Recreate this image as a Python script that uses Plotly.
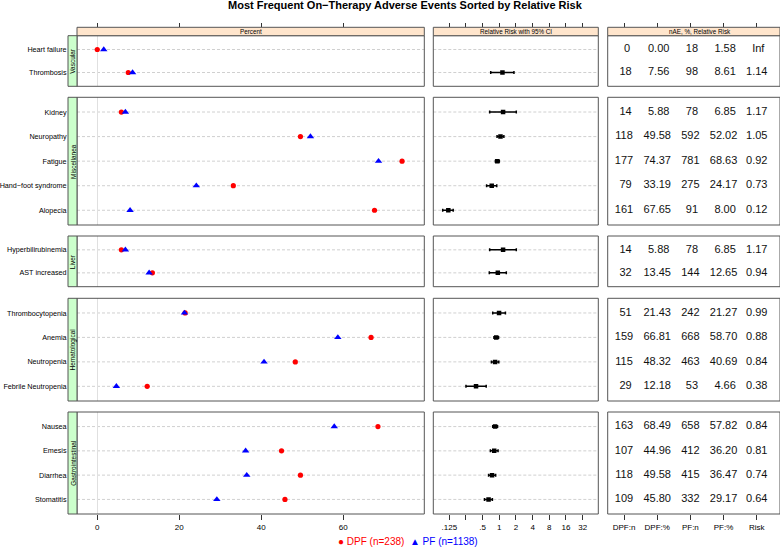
import math
import plotly.graph_objects as go

# ---------------- data ----------------
groups = ["Vascular", "Miscellanea", "Liver", "Hematological", "Gastrointestinal"]
events = ["Heart failure", "Thrombosis",
          "Kidney", "Neuropathy", "Fatigue", "Hand\u2212foot syndrome", "Alopecia",
          "Hyperbilirubinemia", "AST increased",
          "Thrombocytopenia", "Anemia", "Neutropenia", "Febrile Neutropenia",
          "Nausea", "Emesis", "Diarrhea", "Stomatitis"]
event_group = ["Vascular", "Vascular",
               "Miscellanea", "Miscellanea", "Miscellanea", "Miscellanea", "Miscellanea",
               "Liver", "Liver",
               "Hematological", "Hematological", "Hematological", "Hematological",
               "Gastrointestinal", "Gastrointestinal", "Gastrointestinal", "Gastrointestinal"]
dpf_n = [0, 18, 14, 118, 177, 79, 161, 14, 32, 51, 159, 115, 29, 163, 107, 118, 109]
dpf_pct = [0.00, 7.56, 5.88, 49.58, 74.37, 33.19, 67.65, 5.88, 13.45, 21.43, 66.81, 48.32, 12.18,
           68.49, 44.96, 49.58, 45.80]
pf_n = [18, 98, 78, 592, 781, 275, 91, 78, 144, 242, 668, 463, 53, 658, 412, 415, 332]
pf_pct = [1.58, 8.61, 6.85, 52.02, 68.63, 24.17, 8.00, 6.85, 12.65, 21.27, 58.70, 40.69, 4.66,
          57.82, 36.20, 36.47, 29.17]
risk = [math.inf, 1.14, 1.17, 1.05, 0.92, 0.73, 0.12, 1.17, 0.94, 0.99, 0.88, 0.84, 0.38,
        0.84, 0.81, 0.74, 0.64]
ci_low = [None, 0.70, 0.67, 0.91, 0.85, 0.59, 0.095, 0.67, 0.66, 0.76, 0.80, 0.72, 0.25,
          0.76, 0.69, 0.64, 0.54]
ci_high = [None, 1.84, 2.03, 1.21, 1.00, 0.90, 0.147, 2.03, 1.34, 1.29, 0.97, 0.98, 0.58,
           0.93, 0.95, 0.86, 0.75]

pct_ticks = [0, 20, 40, 60]
rr_ticks = [0.125, 0.25, 0.5, 1, 2, 4, 8, 16, 32]
rr_ticktext = [".125", "", ".5", "1", "2", "4", "8", "16", "32"]
tab_ticks = [1, 2, 3, 4, 5]
tab_ticktext = ["DPF:n", "DPF:%", "PF:n", "PF:%", "Risk"]

title = "Most Frequent On\u2212Therapy Adverse Events Sorted by Relative Risk"
strip_titles = ["Percent", "Relative Risk with 95% CI", "nAE, %, Relative Risk"]
legend_dpf = "DPF (n=238)"
legend_pf = "PF (n=1138)"

# ---------------- layout geometry (pixels) ----------------
W, H = 780, 547
FONT = "Liberation Sans, Arial, sans-serif"


def fx(p):
    return p / W


def fy(p):
    return 1 - p / H


col_px = [(77, 424.3), (433.3, 598.3), (607.7, 780)]
panel_px = [(35.7, 86.3), (97.3, 225), (236, 286.7), (298.3, 401), (412, 514)]
strip_top, strip_bot = 27.3, 35.7
xnames = ["x", "x2", "x3"]
ynames = ["y", "y2", "y3", "y4", "y5"]

pct_range = [-4.95, 79.8]
rr_range = [math.log10(2 ** -3.96), math.log10(2 ** 5.94)]
tab_range = [0.509, 5.70]

RED = "#FF0000"
BLUE = "#0000FF"
BORDER = "#555555"

fig = go.Figure()
shapes = []
annotations = []


def pad(s, w):
    return "\u00a0" * (w - len(s)) + s


def fmt_risk(v):
    return "Inf" if math.isinf(v) else f"{v:.2f}"


tab_cols = [
    ([str(v) for v in dpf_n], 3),
    ([f"{v:.2f}" for v in dpf_pct], 5),
    ([str(v) for v in pf_n], 3),
    ([f"{v:.2f}" for v in pf_pct], 5),
    ([fmt_risk(v) for v in risk], 4),
]

for k, g in enumerate(groups):
    ya = ynames[k]
    idx = [i for i, eg in enumerate(event_group) if eg == g]
    rows = list(range(1, len(idx) + 1))
    # percent column
    fig.add_trace(go.Scatter(
        x=[dpf_pct[i] for i in idx], y=rows, xaxis="x", yaxis=ya, mode="markers",
        marker=dict(symbol="circle", size=5.2, color=RED), showlegend=False, cliponaxis=False,
        hoverinfo="skip"))
    fig.add_trace(go.Scatter(
        x=[pf_pct[i] for i in idx], y=rows, xaxis="x", yaxis=ya, mode="markers",
        marker=dict(symbol="triangle-up", size=6.5, color=BLUE), showlegend=False,
        cliponaxis=False, hoverinfo="skip"))
    # relative risk column
    rx, ry, ep, em = [], [], [], []
    for r, i in zip(rows, idx):
        if math.isinf(risk[i]) or ci_low[i] is None:
            continue
        rx.append(risk[i])
        ry.append(r)
        ep.append(ci_high[i] - risk[i])
        em.append(risk[i] - ci_low[i])
    fig.add_trace(go.Scatter(
        x=rx, y=ry, xaxis="x2", yaxis=ya, mode="markers",
        marker=dict(symbol="square", size=4.5, color="black"),
        error_x=dict(type="data", symmetric=False, array=ep, arrayminus=em,
                     color="black", thickness=1.5, width=1.5),
        showlegend=False, hoverinfo="skip"))
    # table column
    for c, (vals, w) in enumerate(tab_cols):
        fig.add_trace(go.Scatter(
            x=[tab_ticks[c]] * len(idx), y=rows, xaxis="x3", yaxis=ya, mode="text",
            text=[pad(vals[i], w) for i in idx],
            textfont=dict(size=11, color="#111111", family=FONT),
            textposition="middle center", showlegend=False, hoverinfo="skip"))

    # axis
    top, bot = panel_px[k]
    fig.update_layout(**{
        ("yaxis" if k == 0 else f"yaxis{k + 1}"): dict(
            domain=[fy(bot), fy(top)], anchor="x",
            range=[len(idx) + 0.6, 0.4],
            tickvals=rows, ticktext=[events[i] for i in idx],
            tickfont=dict(size=7.2, color="#000000", family=FONT),
            ticks="outside", ticklen=8, tickcolor="rgba(0,0,0,0)",
            showgrid=False, zeroline=False, showline=False, automargin=False)
    })

    # horizontal dashed reference lines (percent & RR columns)
    for r in rows:
        for xa in ["x", "x2"]:
            shapes.append(dict(type="line", xref=f"{xa} domain", yref=ya, x0=0, x1=1, y0=r, y1=r,
                               line=dict(color="#c4c4c4", width=0.8, dash="3px,2px"), layer="below"))
    # vertical reference at RR = 1 (log10(1) = 0)
    shapes.append(dict(type="line", xref="x2", yref=f"{ya} domain", x0=0, x1=0, y0=0, y1=1,
                       line=dict(color="#e0e0e0", width=1), layer="below"))
    # panel borders
    for xa in xnames:
        shapes.append(dict(type="rect", xref=f"{xa} domain", yref=f"{ya} domain",
                           x0=0, x1=1, y0=0, y1=1, line=dict(color=BORDER, width=1),
                           fillcolor="rgba(0,0,0,0)", layer="above"))
    # green group strip
    sx0 = (68 - col_px[0][0]) / (col_px[0][1] - col_px[0][0])
    shapes.append(dict(type="rect", xref="x domain", yref=f"{ya} domain",
                       x0=sx0, x1=0, y0=0, y1=1, line=dict(color=BORDER, width=1),
                       fillcolor="#CCFFCC", layer="above"))
    annotations.append(dict(x=fx(72.8), y=fy((top + bot) / 2), xref="paper", yref="paper",
                            text=g, textangle=-90, showarrow=False,
                            xanchor="center", yanchor="middle",
                            font=dict(size=6.5, color="#000000", family=FONT)))

# top strips
strip_centers = [(col_px[0][0] + col_px[0][1]) / 2, (col_px[1][0] + col_px[1][1]) / 2, 699.7]
for c, xa in enumerate(xnames):
    shapes.append(dict(type="rect", xref=f"{xa} domain", yref="paper", x0=0, x1=1,
                       y0=fy(strip_bot), y1=fy(strip_top), line=dict(color=BORDER, width=1),
                       fillcolor="#FFE5CC", layer="above"))
    annotations.append(dict(x=fx(strip_centers[c]), y=fy((strip_top + strip_bot) / 2),
                            xref="paper", yref="paper", text=strip_titles[c], showarrow=False,
                            xanchor="center", yanchor="middle",
                            font=dict(size=6.3, color="#000000", family=FONT)))

# title
annotations.append(dict(x=fx(405.5), y=fy(5.5), xref="paper", yref="paper",
                        text=f"<b>{title}</b>", showarrow=False,
                        xanchor="center", yanchor="middle",
                        font=dict(size=11, color="#000000", family=FONT)))
# legend
annotations.append(dict(
    x=fx(408), y=fy(541.5), xref="paper", yref="paper", showarrow=False,
    xanchor="center", yanchor="middle",
    text=(f"<span style='color:{RED}'>\u25cf {legend_dpf}</span>"
          f"\u00a0\u00a0<span style='color:{BLUE}'>\u25b2 {legend_pf}</span>"),
    font=dict(size=10, family=FONT)))

axis_common = dict(showgrid=False, showline=False, ticks="outside", tickcolor="#333333",
                   tickwidth=1, automargin=False,
                   tickfont=dict(size=8, color="#000000", family=FONT))

fig.update_layout(
    width=W, height=H,
    margin=dict(l=0, r=0, t=0, b=0, autoexpand=False),
    paper_bgcolor="white", plot_bgcolor="white",
    showlegend=False,
    hovermode=False,
    font=dict(family=FONT, color="#000000"),
    xaxis=dict(domain=[fx(col_px[0][0]), fx(col_px[0][1])], anchor="y5", range=pct_range,
               tickvals=pct_ticks, ticklen=5, zeroline=True, zerolinecolor="#e0e0e0",
               zerolinewidth=1, **axis_common),
    xaxis2=dict(domain=[fx(col_px[1][0]), fx(col_px[1][1])], anchor="y5", type="log",
                range=rr_range, tickvals=rr_ticks, ticktext=rr_ticktext, ticklen=5,
                zeroline=False, **axis_common),
    xaxis3=dict(domain=[fx(col_px[2][0]), min(1.0, fx(col_px[2][1]))], anchor="y5",
                range=tab_range, tickvals=tab_ticks, ticktext=tab_ticktext, ticklen=5,
                zeroline=False, **axis_common),
    xaxis4=dict(overlaying="x", anchor="free", position=fy(strip_top), side="top",
                range=pct_range, tickvals=pct_ticks, showticklabels=False, ticklen=4.5,
                zeroline=False, **axis_common),
    xaxis5=dict(overlaying="x2", anchor="free", position=fy(strip_top), side="top", type="log",
                range=rr_range, tickvals=rr_ticks, showticklabels=False, ticklen=4.5,
                zeroline=False, **axis_common),
    xaxis6=dict(overlaying="x3", anchor="free", position=fy(strip_top), side="top",
                range=tab_range, tickvals=tab_ticks, showticklabels=False, ticklen=4.5,
                zeroline=False, **axis_common),
    shapes=shapes,
    annotations=annotations,
)

for xa in ["x4", "x5", "x6"]:
    fig.add_trace(go.Scatter(x=[], y=[], xaxis=xa, yaxis="y", mode="markers",
                             showlegend=False, hoverinfo="skip"))

fig.write_html(
    "out.html",
    config={"displayModeBar": False, "staticPlot": True},
    post_script="document.body.style.margin='0px';document.body.style.padding='0px';"
                "document.body.style.overflow='hidden';",
)
